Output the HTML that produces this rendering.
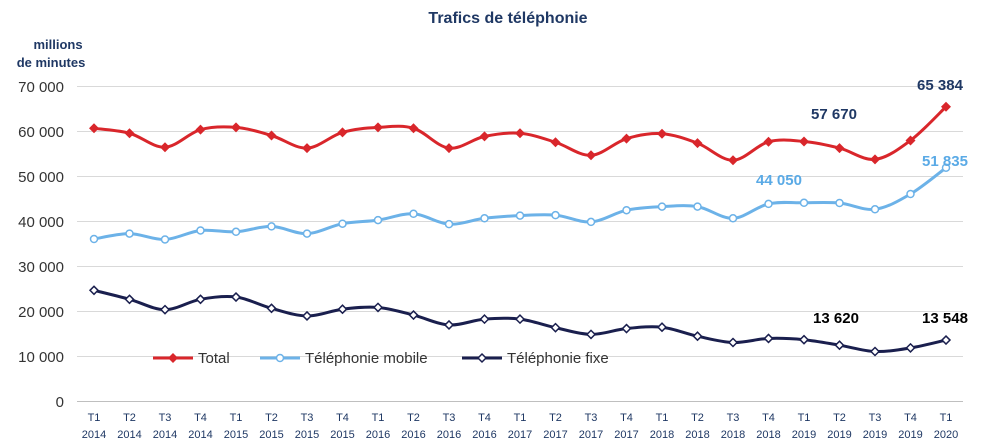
<!DOCTYPE html>
<html><head><meta charset="utf-8"><style>
body{margin:0;background:#fff;}
svg{display:block;font-family:"Liberation Sans",sans-serif;}
</style></head><body>
<svg id="s" width="985" height="447" viewBox="0 0 985 447">
<text x="508" y="23" text-anchor="middle" font-size="16" font-weight="bold" fill="#1f3864">Trafics de téléphonie</text>
<text x="58" y="49" text-anchor="middle" font-size="13" font-weight="bold" fill="#1f3864">millions</text>
<text x="51" y="67" text-anchor="middle" font-size="13" font-weight="bold" fill="#1f3864">de minutes</text>
<g stroke="#d9d9d9" stroke-width="1">
<line x1="77" x2="963" y1="86.5" y2="86.5"/><line x1="77" x2="963" y1="131.5" y2="131.5"/>
<line x1="77" x2="963" y1="176.5" y2="176.5"/><line x1="77" x2="963" y1="221.5" y2="221.5"/>
<line x1="77" x2="963" y1="266.5" y2="266.5"/><line x1="77" x2="963" y1="311.5" y2="311.5"/>
<line x1="77" x2="963" y1="356.5" y2="356.5"/>
</g>
<line x1="77" x2="963" y1="401.5" y2="401.5" stroke="#bfbfbf"/>
<g font-size="15" fill="#333" text-anchor="end">
<text x="64" y="92">70 000</text><text x="64" y="137">60 000</text><text x="64" y="182">50 000</text>
<text x="64" y="227">40 000</text><text x="64" y="272">30 000</text><text x="64" y="317">20 000</text>
<text x="64" y="362">10 000</text><text x="64" y="407">0</text>
</g>
<g id="xl" font-size="11" fill="#1f3864" text-anchor="middle">
<text x="94" y="421">T1</text><text x="94" y="438">2014</text>
<text x="129.5" y="421">T2</text><text x="129.5" y="438">2014</text>
<text x="165" y="421">T3</text><text x="165" y="438">2014</text>
<text x="200.5" y="421">T4</text><text x="200.5" y="438">2014</text>
<text x="236" y="421">T1</text><text x="236" y="438">2015</text>
<text x="271.5" y="421">T2</text><text x="271.5" y="438">2015</text>
<text x="307" y="421">T3</text><text x="307" y="438">2015</text>
<text x="342.5" y="421">T4</text><text x="342.5" y="438">2015</text>
<text x="378" y="421">T1</text><text x="378" y="438">2016</text>
<text x="413.5" y="421">T2</text><text x="413.5" y="438">2016</text>
<text x="449" y="421">T3</text><text x="449" y="438">2016</text>
<text x="484.5" y="421">T4</text><text x="484.5" y="438">2016</text>
<text x="520" y="421">T1</text><text x="520" y="438">2017</text>
<text x="555.5" y="421">T2</text><text x="555.5" y="438">2017</text>
<text x="591" y="421">T3</text><text x="591" y="438">2017</text>
<text x="626.5" y="421">T4</text><text x="626.5" y="438">2017</text>
<text x="662" y="421">T1</text><text x="662" y="438">2018</text>
<text x="697.5" y="421">T2</text><text x="697.5" y="438">2018</text>
<text x="733" y="421">T3</text><text x="733" y="438">2018</text>
<text x="768.5" y="421">T4</text><text x="768.5" y="438">2018</text>
<text x="804" y="421">T1</text><text x="804" y="438">2019</text>
<text x="839.5" y="421">T2</text><text x="839.5" y="438">2019</text>
<text x="875" y="421">T3</text><text x="875" y="438">2019</text>
<text x="910.5" y="421">T4</text><text x="910.5" y="438">2019</text>
<text x="946" y="421">T1</text><text x="946" y="438">2020</text>
</g>
<g id="series"></g>
<g font-size="15" font-weight="bold">
<text x="834" y="119" text-anchor="middle" fill="#1f3864">57 670</text>
<text x="940" y="90" text-anchor="middle" fill="#1f3864">65 384</text>
<text x="779" y="185" text-anchor="middle" fill="#5aaae6">44 050</text>
<text x="945" y="166" text-anchor="middle" fill="#5aaae6">51 835</text>
<text x="836" y="323" text-anchor="middle" fill="#000">13 620</text>
<text x="945" y="323" text-anchor="middle" fill="#000">13 548</text>
</g>
<g font-size="15" fill="#333">
<line x1="153" x2="193" y1="358" y2="358" stroke="#d9262b" stroke-width="3"/>
<path d="M173 353L178 358L173 363L168 358Z" fill="#d9262b"/>
<text x="198" y="363">Total</text>
<line x1="260" x2="300" y1="358" y2="358" stroke="#6cb2e8" stroke-width="3"/>
<circle cx="280" cy="358" r="3.5" fill="#fff" stroke="#6cb2e8" stroke-width="1.5"/>
<text x="305" y="363">Téléphonie mobile</text>
<line x1="462" x2="502" y1="358" y2="358" stroke="#1a1f4e" stroke-width="3"/>
<path d="M482 354L486 358L482 362L478 358Z" fill="#fff" stroke="#1a1f4e" stroke-width="1.5"/>
<text x="507" y="363">Téléphonie fixe</text>
</g>
</svg>
<script>
var T=[60600,59500,56400,60300,60800,59000,56200,59700,60800,60600,56200,58800,59500,57500,54600,58300,59400,57300,53500,57600,57670,56200,53700,57900,65384];
var M=[36000,37200,35900,37900,37600,38800,37200,39400,40200,41600,39300,40600,41200,41300,39800,42400,43200,43200,40600,43800,44050,44000,42600,46000,51835];
var F=[24600,22600,20300,22600,23100,20600,18900,20400,20800,19100,16900,18200,18200,16300,14800,16100,16400,14400,13000,13900,13620,12400,11000,11800,13548];
var ns="http://www.w3.org/2000/svg",g=document.getElementById("series");
function px(i){return 94+i*35.5;}function py(v){return 401-v*0.0045;}
function path(d){var p=d.map(function(v,i){return[px(i),py(v)]});var s="M"+p[0][0]+" "+p[0][1];
for(var i=0;i<p.length-1;i++){var a=p[Math.max(i-1,0)],b=p[i],c=p[i+1],e=p[Math.min(i+2,p.length-1)];
s+="C"+(b[0]+(c[0]-a[0])/6)+" "+(b[1]+(c[1]-a[1])/6)+" "+(c[0]-(e[0]-b[0])/6)+" "+(c[1]-(e[1]-b[1])/6)+" "+c[0]+" "+c[1];}return s;}
function el(t,a){var e=document.createElementNS(ns,t);for(var k in a)e.setAttribute(k,a[k]);g.appendChild(e);}
function draw(d,col,type){el("path",{d:path(d),fill:"none",stroke:col,"stroke-width":3});
d.forEach(function(v,i){var x=px(i),y=py(v);
if(type==0)el("path",{d:"M"+x+" "+(y-5)+"L"+(x+5)+" "+y+"L"+x+" "+(y+5)+"L"+(x-5)+" "+y+"Z",fill:col});
else if(type==1)el("circle",{cx:x,cy:y,r:3.5,fill:"#fff",stroke:col,"stroke-width":1.5});
else el("path",{d:"M"+x+" "+(y-4)+"L"+(x+4)+" "+y+"L"+x+" "+(y+4)+"L"+(x-4)+" "+y+"Z",fill:"#fff",stroke:col,"stroke-width":1.5});});}
draw(T,"#d9262b",0);draw(M,"#6cb2e8",1);draw(F,"#1a1f4e",2);
</script>
</body></html>
